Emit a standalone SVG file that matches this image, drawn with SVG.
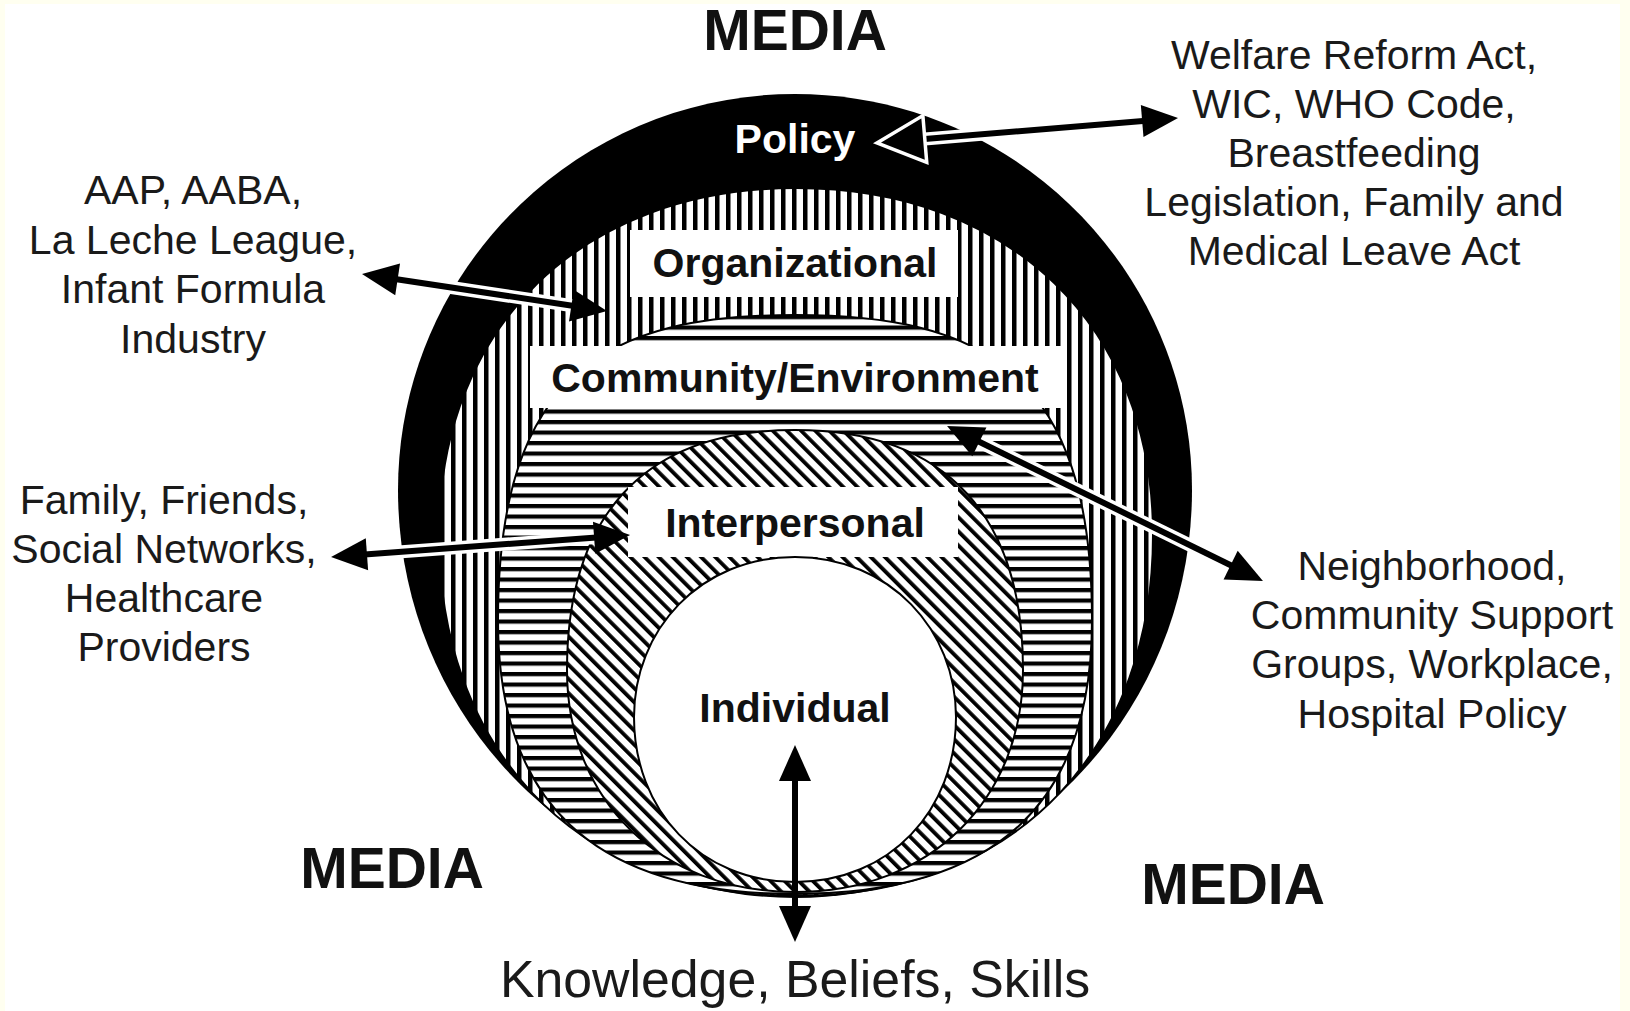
<svg xmlns="http://www.w3.org/2000/svg" width="1630" height="1011" viewBox="0 0 1630 1011">
  <style>
    .lbl { font-family: "Liberation Sans", Arial, sans-serif; font-weight: bold; font-size: 41px; text-anchor: middle; fill: #111; }
    .media { font-family: "Liberation Sans", Arial, sans-serif; font-weight: bold; font-size: 57px; text-anchor: middle; fill: #111; }
    .side { font-family: "Liberation Sans", Arial, sans-serif; font-size: 41px; text-anchor: middle; fill: #1a1a1a; }
    .bottom { font-family: "Liberation Sans", Arial, sans-serif; font-size: 51.8px; text-anchor: middle; fill: #1a1a1a; }
    .halo { stroke: #fff; stroke-width: 13; fill: none; }
    .line { stroke: #000; stroke-width: 6; fill: none; marker-end: url(#head); }
    .both { marker-start: url(#head); }
    .open { marker-start: url(#openhead); }
    .box { fill: #fff; }
    .ring { stroke: #000; stroke-width: 2; }
  </style>
  <defs>
    <pattern id="pv" width="11" height="11" patternUnits="userSpaceOnUse">
      <rect width="11" height="11" fill="#fff"/>
      <rect width="4.5" height="11" fill="#000"/>
    </pattern>
    <pattern id="ph" width="11" height="10.5" patternUnits="userSpaceOnUse">
      <rect width="11" height="10.5" fill="#fff"/>
      <rect width="11" height="4.2" fill="#000"/>
    </pattern>
    <pattern id="pd" width="10" height="10" patternUnits="userSpaceOnUse" patternTransform="rotate(-45)">
      <rect width="10" height="10" fill="#fff"/>
      <rect width="3.8" height="10" fill="#000"/>
    </pattern>
    <marker id="head" markerUnits="userSpaceOnUse" markerWidth="36" markerHeight="32" refX="16" refY="16" orient="auto-start-reverse" overflow="visible">
      <path d="M0,0 L36,16 L0,32 Z" fill="#000"/>
    </marker>
    <marker id="openhead" markerUnits="userSpaceOnUse" markerWidth="48" markerHeight="47" refX="0" refY="23.5" orient="auto-start-reverse" overflow="visible">
      <path d="M0,0 L48,23.5 L0,47 Z" fill="#000" stroke="#fff" stroke-width="3.5" stroke-linejoin="miter"/>
    </marker>
  </defs>

  <rect x="0" y="0" width="1630" height="1011" fill="#fffff0"/>
  <rect x="5" y="4" width="1615" height="1007" fill="#fff"/>

  <g id="policy">
    <path d="M795,94 C1014,94 1192,272 1192,490 C1192,715 1014,898 795,898 C576,898 398,715 398,490 C398,272 576,94 795,94 Z" fill="#000"/>
    <text class="lbl" x="795" y="153" style="fill:#fff">Policy</text>
  </g>

  <g id="organizational">
    <path class="ring" d="M796,188 C1010,188 1153,327 1153,535 C1153,740 1025,896 796,896 C567,896 439,740 439,535 C439,327 582,188 796,188 Z" fill="url(#pv)"/>
    <rect class="box" x="630" y="230" width="328" height="67"/>
    <text class="lbl" x="795" y="277">Organizational</text>
  </g>

  <g id="community">
    <path class="ring" d="M795,315 C980,315 1092,370 1092,620 C1092,800 1000,894 795,894 C590,894 498,800 498,620 C498,370 610,315 795,315 Z" fill="url(#ph)"/>
    <rect class="box" x="530" y="346" width="532" height="62"/>
    <text class="lbl" x="795" y="392">Community/Environment</text>
  </g>

  <g id="interpersonal">
    <path class="ring" d="M795,430 C950,430 1023,520 1023,670 C1023,800 930,892 795,892 C660,892 567,800 567,670 C567,520 640,430 795,430 Z" fill="url(#pd)"/>
    <rect class="box" x="628" y="487" width="330" height="70"/>
    <text class="lbl" x="795" y="537">Interpersonal</text>
  </g>

  <g id="individual">
    <path class="ring" d="M795,557 C890,557 956,630 956,717 C956,810 890,882 795,882 C700,882 634,810 634,717 C634,630 700,557 795,557 Z" fill="#fff"/>
    <text class="lbl" x="795" y="722">Individual</text>
  </g>

  <g id="media-top"><text class="media" x="795" y="50">MEDIA</text></g>
  <g id="media-left"><text class="media" x="392" y="888">MEDIA</text></g>
  <g id="media-right"><text class="media" x="1233" y="904">MEDIA</text></g>

  <g id="policy-examples">
    <text class="side" x="1354" y="69">Welfare Reform Act,</text>
    <text class="side" x="1354" y="118">WIC, WHO Code,</text>
    <text class="side" x="1354" y="167">Breastfeeding</text>
    <text class="side" x="1354" y="216">Legislation, Family and</text>
    <text class="side" x="1354" y="265">Medical Leave Act</text>
  </g>

  <g id="organizational-examples">
    <text class="side" x="193" y="204">AAP, AABA,</text>
    <text class="side" x="193" y="253.5">La Leche League,</text>
    <text class="side" x="193" y="303">Infant Formula</text>
    <text class="side" x="193" y="352.5">Industry</text>
  </g>

  <g id="interpersonal-examples">
    <text class="side" x="164" y="514">Family, Friends,</text>
    <text class="side" x="164" y="563">Social Networks,</text>
    <text class="side" x="164" y="612">Healthcare</text>
    <text class="side" x="164" y="661">Providers</text>
  </g>

  <g id="community-examples">
    <text class="side" x="1432" y="580">Neighborhood,</text>
    <text class="side" x="1432" y="629">Community Support</text>
    <text class="side" x="1432" y="678">Groups, Workplace,</text>
    <text class="side" x="1432" y="728">Hospital Policy</text>
  </g>

  <g id="individual-examples">
    <text class="bottom" x="795" y="997">Knowledge, Beliefs, Skills</text>
  </g>

  <g id="connectors">
    <line class="halo" x1="924.8" y1="139" x2="1158.1" y2="119.7"/>
    <line class="line open" x1="924.8" y1="139" x2="1158.1" y2="119.7"/>

    <line class="halo" x1="381.8" y1="277" x2="587.2" y2="308"/>
    <line class="line both" x1="381.8" y1="277" x2="587.2" y2="308"/>

    <line class="halo" x1="351" y1="555.5" x2="610.1" y2="536.5"/>
    <line class="line both" x1="351" y1="555.5" x2="610.1" y2="536.5"/>

    <line class="halo" x1="965" y1="434.8" x2="1245" y2="572.2"/>
    <line class="line both" x1="965" y1="434.8" x2="1245" y2="572.2"/>

    <line class="line both" x1="795" y1="765" x2="795" y2="922"/>
  </g>
</svg>
